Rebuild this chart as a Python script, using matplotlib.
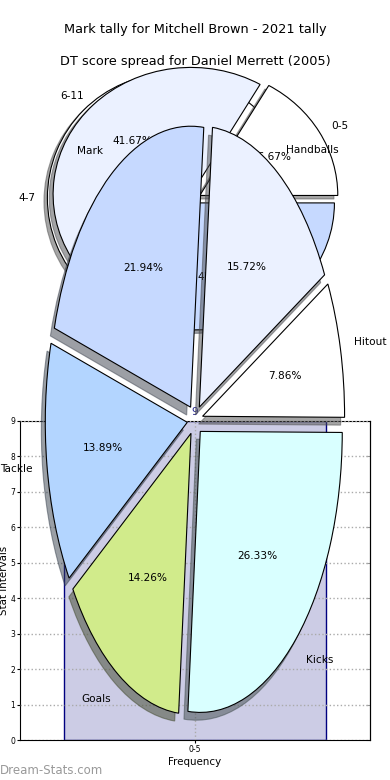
import matplotlib
matplotlib.use("Agg")
from matplotlib import pyplot as plt

# ---- data ----
title_top = "Mark tally for Mitchell Brown - 2021 tally"
title_mid = "DT score spread for Daniel Merrett (2005)"

# single-slice pie behind
one_labels = ["4-7"]
one_values = [1]

# three-slice pie
tally_labels = ["0-5", "6-11", "12-17"]
tally_values = [2, 5, 5]

# big stat pie
dt_labels = ["Kicks", "Hitout", "Handballs", "Mark", "Tackle", "Goals"]
dt_values = [26.33, 7.86, 15.72, 21.94, 13.89, 14.26]

# bar chart
bar_cats = ["0-5"]
bar_vals = [9]

W, H = 390, 780


def px_axes(fig, cx, cy, rx, ry):
    # axes whose +-1.25 range maps onto rx/ry pixels per unit around (cx, cy)
    w = 2.5 * rx
    h = 2.5 * ry
    return fig.add_axes([(cx - w / 2) / W, (H - (cy + h / 2)) / H, w / W, h / H])


fig = plt.figure(figsize=(3.9, 7.8), dpi=100)
wedge_kw = dict(edgecolor="black", linewidth=0.8)
txt_kw = dict(fontsize=7.6)

# single slice pie
ax1 = px_axes(fig, 195, 198, 123, 124)
ax1.pie(one_values, labels=one_labels, autopct="%1.0f%%", explode=[0.2],
        shadow=True, colors=["white"], wedgeprops=wedge_kw, textprops=txt_kw)
ax1.set_aspect("auto")
ax1.set_xlim(-1.25, 1.25)
ax1.set_ylim(-1.25, 1.25)

# three slice pie
ax2 = px_axes(fig, 195, 198, 138, 127)
ax2.pie(tally_values, labels=tally_labels, autopct="%1.2f%%",
        explode=[0.04, 0.04, 0.04], shadow=True,
        colors=["white", "#EBF1FF", "#C6D9FF"], wedgeprops=wedge_kw, textprops=txt_kw)
ax2.set_aspect("auto")
ax2.set_xlim(-1.25, 1.25)
ax2.set_ylim(-1.25, 1.25)

# bar chart
ax = fig.add_axes([20 / W, 40 / H, 350 / W, 319 / H])
bars = ax.bar(bar_cats, bar_vals, width=0.75, color="#CCCCE5", edgecolor="#000080", linewidth=1)
ax.bar_label(bars, color="#22228f", fontsize=7.5, padding=3)
ax.set_xlim(-0.5, 0.5)
ax.set_ylim(0, 9)
ax.set_yticks(range(0, 10))
ax.grid(True, linestyle=":", color="#aaaaaa", linewidth=1)
ax.set_axisbelow(False)
ax.tick_params(labelsize=5.5, length=2, pad=1.5)
ax.set_xlabel("Frequency", fontsize=7.4, labelpad=2)
ax.set_ylabel("Stat Intervals", fontsize=7.4, labelpad=1)
sec = ax.secondary_yaxis("right")
sec.set_yticks(range(0, 10))
sec.tick_params(direction="in", length=3, labelright=False, color="#999999")

# big pie on top
ax3 = px_axes(fig, 195, 420, 142, 281)
ax3.pie(dt_values, labels=dt_labels, autopct="%1.2f%%", explode=[0.055] * 6,
        shadow=True, startangle=265,
        colors=["#D9FFFF", "white", "#EBF1FF", "#C6D9FF", "#B3D5FF", "#D1EB8B"],
        wedgeprops=wedge_kw, textprops=txt_kw)
ax3.set_aspect("auto")
ax3.set_xlim(-1.25, 1.25)
ax3.set_ylim(-1.25, 1.25)

fig.text(0.5, 1 - 30 / H, title_top, ha="center", va="center", fontsize=9.3)
fig.text(0.5, 1 - 61 / H, title_mid, ha="center", va="center", fontsize=9.3)
fig.text(0.0, 1 - 770 / H, "Dream-Stats.com", ha="left", va="center", fontsize=8.5, color="#999999")

fig.savefig("out.png", dpi=100)
